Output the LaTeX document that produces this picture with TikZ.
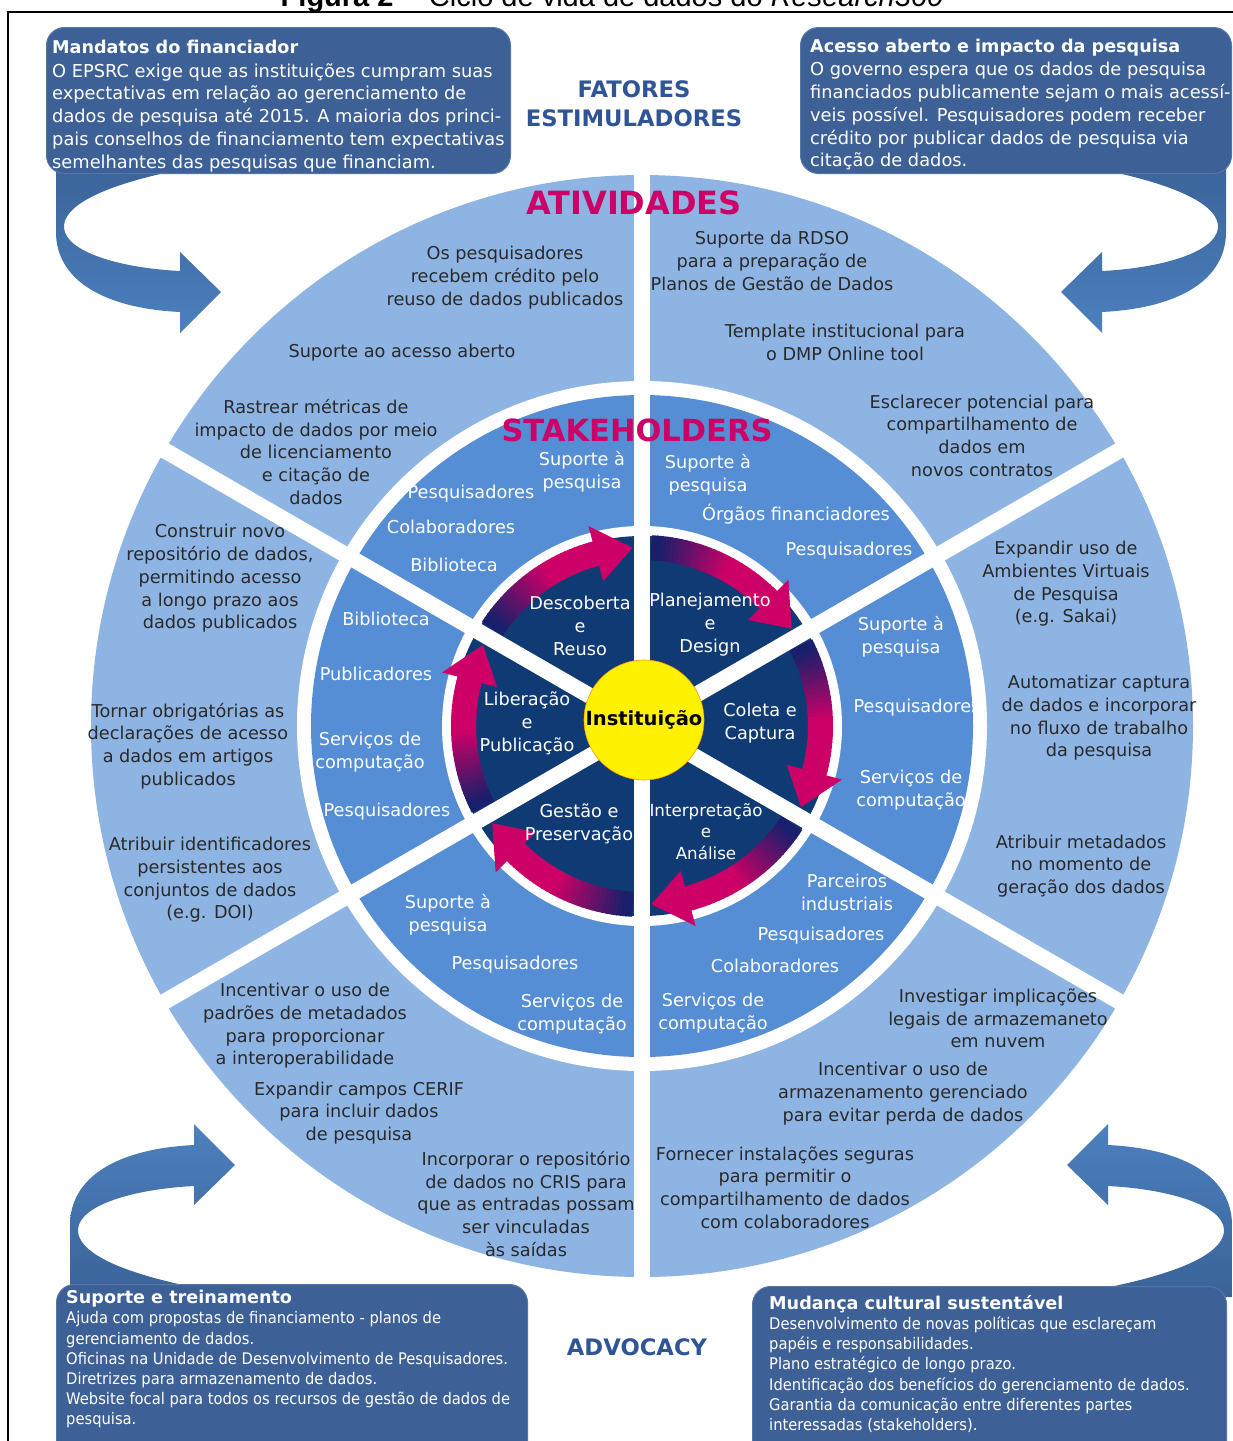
\documentclass[tikz,border=0pt]{standalone}
\usepackage{fontspec}
\setmainfont{DejaVu Sans}
\newfontfamily\tahomaf[FakeStretch=0.92]{DejaVu Sans}
\newfontfamily\arialf{Liberation Sans}
\definecolor{ringlight}{HTML}{8EB4E3}
\definecolor{ringmid}{HTML}{558ED5}
\definecolor{ringdark}{HTML}{0F3A74}
\definecolor{boxblue}{HTML}{3D6196}
\definecolor{boxedge}{HTML}{5577A8}
\definecolor{ribdark}{HTML}{3A6398}
\definecolor{riblight}{HTML}{4C80BF}
\definecolor{hotmag}{HTML}{CC0066}
\definecolor{arrnavy}{HTML}{1A1F6B}
\definecolor{headblue}{HTML}{2F5597}
\definecolor{txtgray}{HTML}{2A2A2A}
\definecolor{instyellow}{HTML}{FFF200}
\newcommand\ribpath{(238,-160) .. controls (150,-172) and (62,-195) .. (64,-228) .. controls (66,-252) and (120,-268) .. (180,-271) -- (180,-252) -- (221,-292) -- (180,-333) -- (180,-312) .. controls (100,-308) and (56,-278) .. (56,-232) -- (56,-160) -- cycle}
\begin{document}
\begin{tikzpicture}[x=1pt,y=1pt,
  outtxt/.style={font=\fontsize{17.7}{22.7}\selectfont, text=txtgray, align=center, inner sep=0pt},
  midtxt/.style={font=\fontsize{17.7}{23}\selectfont, text=white, align=center, inner sep=0pt},
  intxt/.style={font=\fontsize{17.7}{23}\selectfont, text=white, align=center, inner sep=0pt},
  hdr/.style={font=\bfseries\fontsize{22.7}{29}\selectfont, text=headblue, align=center, inner sep=0pt},
  hdrmag/.style={font=\bfseries\fontsize{30.5}{34}\selectfont, text=hotmag, inner sep=0pt},
  boxbg/.style={fill=boxblue, draw=boxedge, line width=1pt, rounded corners=18pt, inner sep=0pt, anchor=north west},
  boxtitle/.style={font=\bfseries\fontsize{17.6}{22.8}\selectfont, text=white, inner sep=0pt, anchor=north west},
  boxbody/.style={font=\fontsize{17.8}{22.8}\selectfont, text=white, align=left, inner sep=0pt, anchor=north west},
  boxbodyb/.style={font=\tahomaf\fontsize{16}{20.2}\selectfont, text=white, align=left, inner sep=0pt, anchor=north west}
]
\useasboundingbox (0,0) rectangle (1233,-1441);
\clip (0,0) rectangle (1233,-1441);

% title (cut at top)
\node[font=\arialf\fontsize{29}{33}\selectfont, anchor=base, inner sep=0pt] (fig) at (612,-6) {\textbf{Figura 2} -- Ciclo de vida de dados do \textit{Research360}};
% frame
\draw[line width=1.5pt] (8,-1441) -- (8,-12) -- (1233,-12);

% ribbons
\shade[top color=ribdark, bottom color=riblight] \ribpath;
\begin{scope}[shift={(1282,0)},xscale=-1]
\shade[top color=ribdark, bottom color=riblight] \ribpath;
\end{scope}
\begin{scope}[shift={(14,-1457)},yscale=-1]
\shade[top color=riblight, bottom color=ribdark] \ribpath;
\end{scope}
\begin{scope}[shift={(1288,-1457)},xscale=-1,yscale=-1]
\shade[top color=riblight, bottom color=ribdark] \ribpath;
\end{scope}

% boxes
\node[boxbg, minimum width=464pt, minimum height=146pt] (boxTL) at (46,-27) {};
\node[boxbg, minimum width=431pt, minimum height=146pt] (boxTR) at (800,-27) {};
\node[boxbg, minimum width=471pt, minimum height=180pt] (boxBL) at (56,-1284) {};
\node[boxbg, minimum width=474pt, minimum height=180pt] (boxBR) at (752,-1286) {};

\node[boxtitle] (tTL) at (52,-40) {Mandatos do financiador};
\node[boxbody] (bTL) at (52,-63) {O EPSRC exige que as instituições cumpram suas\\expectativas em relação ao gerenciamento de\\dados de pesquisa até 2015. A maioria dos princi-\\pais conselhos de financiamento tem expectativas\\semelhantes das pesquisas que financiam.};
\node[boxtitle] (tTR) at (810,-39) {Acesso aberto e impacto da pesquisa};
\node[boxbody] (bTR) at (810,-62) {O governo espera que os dados de pesquisa\\financiados publicamente sejam o mais acessí-\\veis possível. Pesquisadores podem receber\\crédito por publicar dados de pesquisa via\\citação de dados.};
\node[boxtitle] (tBL) at (66,-1290) {Suporte e treinamento};
\node[boxbodyb] (bBL) at (66,-1311.5) {Ajuda com propostas de financiamento - planos de\\gerenciamento de dados.\\Oficinas na Unidade de Desenvolvimento de Pesquisadores.\\Diretrizes para armazenamento de dados.\\Website focal para todos os recursos de gestão de dados de\\pesquisa.};
\node[boxtitle] (tBR) at (769,-1295) {Mudança cultural sustentável};
\node[boxbodyb] (bBR) at (769,-1316.5) {Desenvolvimento de novas políticas que esclareçam\\papéis e responsabilidades.\\Plano estratégico de longo prazo.\\Identificação dos benefícios do gerenciamento de dados.\\Garantia da comunicação entre diferentes partes\\interessadas (stakeholders).};

\node[hdr] (fatores) at (634,-103.5) {FATORES\\ESTIMULADORES};
\node[hdr] (advocacy) at (637,-1347) {ADVOCACY};

% rings
\begin{scope}[shift={(642,-726)}]
\fill[ringlight] (0,0) circle[radius=551];
\fill[white] (0,0) circle[radius=345];
\fill[ringmid] (0,0) circle[radius=331];
\fill[white] (0,0) circle[radius=200];
\fill[ringdark] (0,0) circle[radius=190];
\foreach \a in {30,90,...,330} \draw[white, line width=16pt] (0,0) -- (\a:556);
\foreach \s in {150,90,30,-30,-90,-150}{
  \foreach \i in {0,...,27}{
    \pgfmathsetmacro\aa{\s-3-\i*1.5}
    \pgfmathsetmacro\bb{\s-3-(\i+1)*1.5-0.4}
    \pgfmathsetmacro\pp{min(100,max(0,(\i/27-0.05)*180))}
    \fill[hotmag!\pp!arrnavy] (\aa:191) arc[start angle=\aa,end angle=\bb,radius=191] -- (\bb:166) arc[start angle=\bb,end angle=\aa,radius=166] -- cycle;
  }
  \fill[hotmag] (\s-45:207) -- (\s-57:178.5) -- (\s-45:150) -- cycle;
}
\end{scope}
\node[circle, fill=instyellow, draw=orange!80!yellow, line width=0.6pt, minimum size=120pt, inner sep=0pt, font=\bfseries\fontsize{19.5}{22}\selectfont] (inst) at (644,-720) {Instituição};

\node[hdrmag, font=\bfseries\fontsize{32}{36}\selectfont] (ativ) at (634,-203) {ATIVIDADES};
\node[hdrmag] (stake) at (637,-430) {STAKEHOLDERS};

% outer ring texts
\node[outtxt] (o1) at (505,-277.5) {Os pesquisadores\\recebem crédito pelo\\reuso de dados publicados};
\node[outtxt] (o2) at (402,-353) {Suporte ao acesso aberto};
\node[outtxt] (o3) at (316,-452) {Rastrear métricas de\\impacto de dados por meio\\de licenciamento\\e citação de\\dados};
\node[outtxt] (o4) at (772,-261) {Suporte da RDSO\\para a preparação de\\Planos de Gestão de Dados};
\node[outtxt] (o5) at (845,-342.5) {Template institucional para\\o DMP Online tool};
\node[outtxt] (o6) at (982,-435.5) {Esclarecer potencial para\\compartilhamento de\\dados em\\novos contratos};
\node[outtxt] (o7) at (1066,-584) {Expandir uso de\\Ambientes Virtuais\\de Pesquisa\\(e.g. Sakai)};
\node[outtxt] (o8) at (1099,-718) {Automatizar captura\\de dados e incorporar\\no fluxo de trabalho\\da pesquisa};
\node[outtxt] (o9) at (1081,-866) {Atribuir metadados\\no momento de\\geração dos dados};
\node[outtxt] (o10) at (998,-1018.5) {Investigar implicações\\legais de armazemaneto\\em nuvem};
\node[outtxt] (o11) at (903,-1093.5) {Incentivar o uso de\\armazenamento gerenciado\\para evitar perda de dados};
\node[outtxt] (o12) at (785,-1187.5) {Fornecer instalações seguras\\para permitir o\\compartilhamento de dados\\com colaboradores};
\node[outtxt] (o13) at (305,-1026) {Incentivar o uso de\\padrões de metadados\\para proporcionar\\a interoperabilidade};
\node[outtxt] (o14) at (359,-1113) {Expandir campos CERIF\\para incluir dados\\de pesquisa};
\node[outtxt] (o15) at (526,-1204) {Incorporar o repositório\\de dados no CRIS para\\que as entradas possam\\ser vinculadas\\às saídas};
\node[outtxt] (o16) at (220,-578.5) {Construir novo\\repositório de dados,\\permitindo acesso\\a longo prazo aos\\dados publicados};
\node[outtxt] (o17) at (188,-746) {Tornar obrigatórias as\\declarações de acesso\\a dados em artigos\\publicados};
\node[outtxt] (o18) at (210,-880) {Atribuir identificadores\\persistentes aos\\conjuntos de dados\\(e.g. DOI)};

% middle ring texts
\node[midtxt] (m1) at (582,-471.5) {Suporte à\\pesquisa};
\node[midtxt] (m2) at (471,-494) {Pesquisadores};
\node[midtxt] (m3) at (451,-527) {Colaboradores};
\node[midtxt] (m4) at (454,-565) {Biblioteca};
\node[midtxt] (m5) at (708,-474.5) {Suporte à\\pesquisa};
\node[midtxt] (m6) at (796,-514) {Órgãos financiadores};
\node[midtxt] (m7) at (849,-551) {Pesquisadores};
\node[midtxt] (m8) at (901,-636.5) {Suporte à\\pesquisa};
\node[midtxt] (m9) at (917,-708) {Pesquisadores};
\node[midtxt] (m10) at (911,-790.5) {Serviços de\\computação};
\node[midtxt] (m11) at (847,-892) {Parceiros\\industriais};
\node[midtxt] (m12) at (821,-936) {Pesquisadores};
\node[midtxt] (m13) at (775,-966) {Colaboradores};
\node[midtxt] (m14) at (713,-1013.5) {Serviços de\\computação};
\node[midtxt] (m15) at (448,-914.5) {Suporte à\\pesquisa};
\node[midtxt] (m16) at (515,-965) {Pesquisadores};
\node[midtxt] (m17) at (572,-1014.5) {Serviços de\\computação};
\node[midtxt] (m18) at (386,-619) {Biblioteca};
\node[midtxt] (m19) at (376,-674) {Publicadores};
\node[midtxt] (m20) at (370,-752.5) {Serviços de\\computação};
\node[midtxt] (m21) at (387,-812) {Pesquisadores};

% inner texts
\node[intxt] (i1) at (580,-626) {Descoberta\\e\\Reuso};
\node[intxt] (i2) at (710,-625) {Planejamento\\e\\Design};
\node[intxt] (i3) at (760,-723.5) {Coleta e\\Captura};
\node[intxt, font=\fontsize{16.7}{21.5}\selectfont] (i4) at (706,-831.5) {Interpretação\\e\\Análise};
\node[intxt] (i5) at (579,-823.5) {Gestão e\\Preservação};
\node[intxt] (i6) at (527,-723) {Liberação\\e\\Publicação};
\end{tikzpicture}
\end{document}
